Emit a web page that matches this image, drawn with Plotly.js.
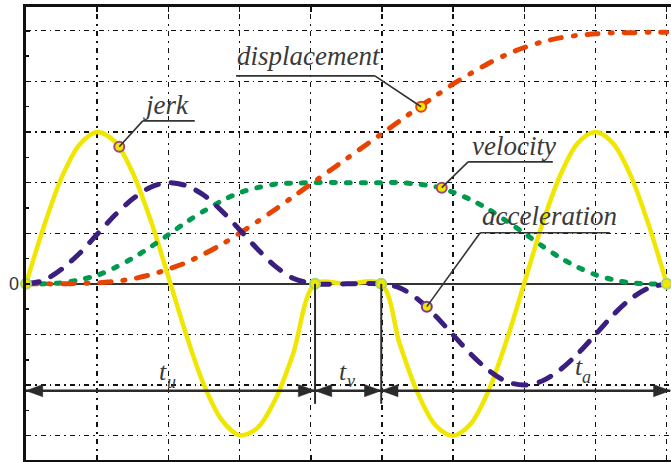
<!DOCTYPE html>
<html>
<head>
<meta charset="utf-8">
<script src="https://cdn.plot.ly/plotly-3.0.1.min.js"></script>
<style>
html,body{margin:0;padding:0;background:#fff;}
#chart{width:671px;height:462px;}
.scatterlayer path.js-line{stroke-linecap:round;}
</style>
</head>
<body>
<div id="chart"></div>
<script>
// time axis (grid units)
const t = [0,0.25,0.5,0.75,1,1.25,1.5,1.75,2,2.25,2.5,2.75,3,3.25,3.5,3.75,4.06,4.5,4.99,5.25,5.5,5.75,6,6.25,6.5,6.75,7,7.25,7.5,7.75,8,8.25,8.5,8.75,9.0];
const jerk = [0,1.13,2.10,2.75,3.0,2.81,2.19,1.26,0.14,-1.0,-2.0,-2.69,-2.99,-2.85,-2.29,-1.39,0,0,0,-1.19,-2.15,-2.79,-3.0,-2.76,-2.10,-1.12,0.02,1.17,2.13,2.78,3.0,2.77,2.12,1.15,0];
const acceleration = [0,0.07,0.29,0.60,0.98,1.36,1.68,1.91,2.0,1.94,1.75,1.44,1.07,0.69,0.35,0.11,0,0,0,-0.08,-0.30,-0.63,-1.01,-1.39,-1.71,-1.93,-2.0,-1.92,-1.70,-1.38,-1.0,-0.61,-0.29,-0.08,0];
const velocity = [0,0.0,0.02,0.08,0.17,0.32,0.51,0.73,0.97,1.22,1.44,1.64,1.80,1.90,1.97,1.99,2.0,2.0,2.0,2.0,1.97,1.92,1.81,1.66,1.47,1.24,1.0,0.75,0.52,0.33,0.18,0.08,0.02,0.0,0];
const displacement = [0,0,0,0.01,0.02,0.05,0.10,0.18,0.29,0.42,0.59,0.78,1.0,1.23,1.47,1.72,2.03,2.47,2.96,3.22,3.47,3.71,3.95,4.16,4.36,4.53,4.67,4.78,4.86,4.91,4.94,4.96,4.96,4.97,4.97];

// phase boundaries (start of t_u, end of t_u, end of t_v, end of t_a)
const boundaryT = [0, 4.06, 4.99, 9.0];
const boundaryY = [0, 0, 0, 0];

// callout points on the curves
const calloutLabels = ['jerk', 'displacement', 'velocity', 'acceleration'];
const calloutT = [1.31, 5.55, 5.84, 5.63];
const calloutY = [2.71, 3.50, 1.90, -0.45];

// interval labels: main letter and subscript
const intervalMain = ['t', 't', 't'];
const intervalSub = ['u', 'v', 'a'];

// y grid values and the only labelled tick
const yTicks = [-3, -2, -1, 0, 1, 2, 3, 4, 5];
const yLabelValue = 0;
const yLabelText = '0';

const YELLOW = '#f0e600';
const serif = 'Liberation Serif, Times New Roman, serif';

const traces = [
  {x: t, y: jerk, mode: 'lines', line: {color: YELLOW, width: 4.5, shape: 'spline', smoothing: 0.9}, hoverinfo: 'skip'},
  {x: t, y: velocity, mode: 'lines', line: {color: '#009a4e', width: 5, dash: '4px,11px', shape: 'spline', smoothing: 0.9}, hoverinfo: 'skip'},
  {x: t, y: displacement, mode: 'lines', line: {color: '#e84300', width: 5, dash: '11px,12px,2px,12px', shape: 'spline', smoothing: 0.9}, hoverinfo: 'skip'},
  {x: t, y: acceleration, mode: 'lines', line: {color: '#3a1f80', width: 5, dash: '13px,13px', shape: 'spline', smoothing: 0.9}, hoverinfo: 'skip'},
  {x: boundaryT, y: boundaryY, mode: 'markers', cliponaxis: false,
   marker: {size: 10, color: YELLOW, line: {color: '#a6d66e', width: 2}}, hoverinfo: 'skip'},
  {x: calloutT, y: calloutY, mode: 'markers', cliponaxis: false,
   marker: {size: 10, color: YELLOW, line: {color: ['#a0457e', '#e84300', '#a0457e', '#7a3a8e'], width: 2}}, hoverinfo: 'skip'}
];

// label layout: [textX, textY(bottom), underline x0, underline x1, underline y, leader attach side]
const labelPos = [
  [1.62, 3.20, 1.64, 2.37, 3.22, 'left'],
  [2.94, 4.17, 2.95, 4.90, 4.11, 'right'],
  [6.24, 2.38, 6.21, 7.40, 2.41, 'left'],
  [6.38, 1.00, 6.38, 8.20, 1.01, 'left']
];

const annotations = [];
const shapes = [];
calloutLabels.forEach((lab, i) => {
  const p = labelPos[i];
  annotations.push({x: p[0], y: p[1], xref: 'x', yref: 'y', xanchor: 'left', yanchor: 'bottom',
    text: '<i>' + lab + '</i>', showarrow: false,
    font: {family: serif, size: 27, color: '#3a3a3a'}});
  shapes.push({type: 'line', xref: 'x', yref: 'y', x0: p[2], x1: p[3], y0: p[4], y1: p[4],
    line: {color: '#333', width: 1.6}, layer: 'above'});
  const ax = p[5] === 'left' ? p[2] : p[3];
  shapes.push({type: 'line', xref: 'x', yref: 'y', x0: ax, y0: p[4], x1: calloutT[i], y1: calloutY[i],
    line: {color: '#333', width: 1.6}, layer: 'above'});
});

// y "0" label
annotations.push({x: 0, y: yLabelValue, xref: 'paper', yref: 'y', xanchor: 'right', yanchor: 'middle',
  xshift: -5, text: yLabelText, showarrow: false,
  font: {family: 'Liberation Sans, Arial, sans-serif', size: 18, color: '#333'}});

// interval dimension line with arrowheads (filled triangles)
const arrowY = -2.11;
const arrowEnd = boundaryT[3] + 0.05;
const headL = 0.235;   // arrowhead length in x units
const headH = 0.12;    // arrowhead half height in y units
const ARROW = '#2b2b2b';
shapes.push({type: 'line', xref: 'x', yref: 'y', x0: boundaryT[0], x1: arrowEnd, y0: arrowY, y1: arrowY,
  line: {color: ARROW, width: 2.5}, layer: 'above'});
function head(tip, dir) { // dir = -1 points left, +1 points right
  const b = tip - dir * headL;
  return {type: 'path', xref: 'x', yref: 'y', layer: 'above',
    path: 'M' + tip + ',' + arrowY + ' L' + b + ',' + (arrowY + headH) + ' L' + b + ',' + (arrowY - headH) + ' Z',
    fillcolor: ARROW, line: {color: ARROW, width: 0.5}};
}
shapes.push(head(boundaryT[0], -1));
shapes.push(head(boundaryT[1], 1));
shapes.push(head(boundaryT[1], -1));
shapes.push(head(boundaryT[2], 1));
shapes.push(head(boundaryT[2], -1));
shapes.push(head(arrowEnd, 1));

// interval label placement (layout positions)
const mainX = [1.92, 4.45, 7.77], mainY = [-1.74, -1.74, -1.64];
const subX = [2.05, 4.57, 7.88], subY = [-1.94, -1.92, -1.84];
intervalMain.forEach((lab, k) => {
  annotations.push({x: mainX[k], y: mainY[k], xref: 'x', yref: 'y', showarrow: false,
    text: '<i>' + lab + '</i>', font: {family: serif, size: 26, color: '#3a3a3a'}});
  annotations.push({x: subX[k], y: subY[k], xref: 'x', yref: 'y', showarrow: false,
    text: '<i>' + intervalSub[k] + '</i>', font: {family: serif, size: 18, color: '#3a3a3a'}});
});
// vertical boundary lines
[1, 2].forEach(k => {
  shapes.push({type: 'line', xref: 'x', yref: 'y', x0: boundaryT[k], x1: boundaryT[k], y0: 0, y1: -2.37,
    line: {color: ARROW, width: 2}, layer: 'above'});
});

const layout = {
  width: 671, height: 462,
  margin: {l: 26, r: 0, t: 7, b: 2, pad: 0},
  paper_bgcolor: '#fff', plot_bgcolor: '#fff',
  showlegend: false,
  xaxis: {range: [0, 9.06], tickmode: 'linear', tick0: 0, dtick: 1,
    showgrid: true, gridcolor: '#111', gridwidth: 1.4, griddash: '2px,5px,5px,5px',
    zeroline: false, showline: true, linecolor: '#111', linewidth: 3, mirror: 'ticks',
    ticks: 'inside', ticklen: 5, tickcolor: '#111', tickwidth: 1.5, showticklabels: false, fixedrange: true},
  yaxis: {range: [-3.48, 5.47], tickmode: 'array', tickvals: yTicks, showticklabels: false,
    showgrid: true, gridcolor: '#111', gridwidth: 1.4, griddash: '5px,4px,1.5px,4px',
    zeroline: true, zerolinecolor: '#333', zerolinewidth: 1.5,
    showline: true, linecolor: '#111', linewidth: 3,
    ticks: 'inside', ticklen: 4, tickcolor: '#111', tickwidth: 1.5,
    minor: {tickmode: 'linear', tick0: 0, dtick: 0.5, ticks: 'inside', ticklen: 3, tickcolor: '#111', showgrid: false},
    fixedrange: true},
  annotations: annotations,
  shapes: shapes
};

Plotly.newPlot('chart', traces, layout, {displayModeBar: false, staticPlot: true});
</script>
</body>
</html>
